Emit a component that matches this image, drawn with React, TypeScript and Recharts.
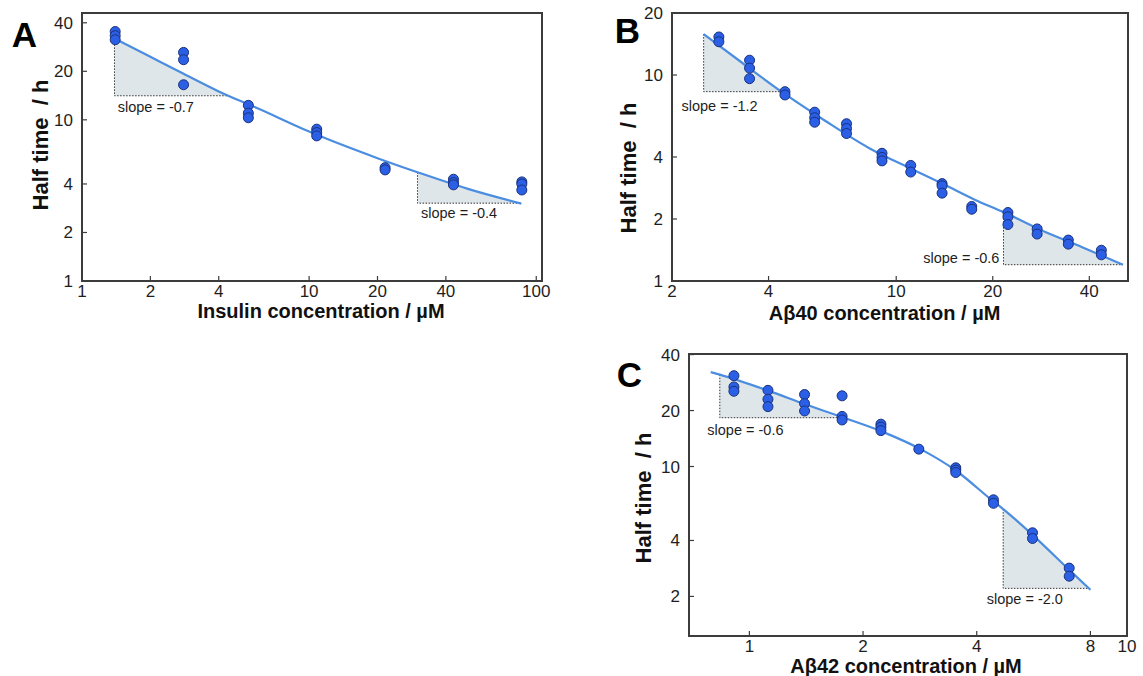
import React from 'react';
import { ComposedChart, XAxis, YAxis, Line, Area, Scatter, ReferenceArea } from 'recharts';

const FONT = '"Liberation Sans", Arial, Helvetica, sans-serif';
const AXIS = '#3c3c3c';
const INK = '#1e1e1e';
const FIT = '#4b8de0';
const DOT_FILL = '#2a5fe6';
const DOT_EDGE = '#1b327d';
const SHADE = '#dfe6e9';

// A: insulin
const insulinConc = [1.4, 2.8, 5.4, 10.8, 21.6, 43.2, 86.4];
const insulinHalfTime = [
  [35.3, 33.3, 31.4], [26.2, 23.6, 16.5], [12.3, 11.0, 10.3], [8.75, 8.34, 7.95],
  [5.05, 4.89], [4.28, 4.08, 3.95], [4.12, 4.0, 3.67],
];
const insulinFitX = [1.39, 2, 2.8, 4, 6, 10, 20, 30, 50, 86];
const insulinFitY = [32.0, 24.6, 19.3, 15.0, 11.7, 8.45, 5.78, 4.73, 3.73, 3.02];
const insulinSlopes = [
  { x1: 1.39, x2: 4.35, base: 14.1, label: 'slope = -0.7' },
  { x1: 30, x2: 86, base: 3.04, label: 'slope = -0.4' },
];
const insulinTicksX = [1, 2, 4, 10, 20, 40, 100];
const insulinTicksY = [1, 2, 4, 10, 20, 40];

// B: Abeta40
const ab40Conc = [2.8, 3.49, 4.5, 5.57, 7.0, 9.03, 11.1, 13.9, 17.2, 22.3, 27.5, 34.4, 43.6];
const ab40HalfTime = [
  [15.3, 14.5], [11.8, 10.8, 9.6], [8.3, 8.0], [6.6, 6.2, 5.9], [5.8, 5.5, 5.2],
  [4.17, 3.98, 3.83], [3.64, 3.38], [2.97, 2.9, 2.67], [2.3, 2.23], [2.15, 2.05, 1.88],
  [1.79, 1.69], [1.58, 1.51], [1.41, 1.34],
];
const ab40FitX = [2.51, 3.3, 4.39, 6, 8.27, 11.2, 14.1, 17.5, 21.6, 28, 38, 50.9];
const ab40FitY = [15.8, 11.5, 8.3, 6.0, 4.4, 3.49, 2.94, 2.49, 2.16, 1.78, 1.46, 1.2];
const ab40Slopes = [
  { x1: 2.51, x2: 4.39, base: 8.3, label: 'slope = -1.2' },
  { x1: 21.6, x2: 50.9, base: 1.2, label: 'slope = -0.6' },
];
const ab40TicksX = [2, 4, 10, 20, 40];
const ab40TicksY = [1, 2, 4, 10, 20];

// C: Abeta42
const ab42Conc = [0.91, 1.12, 1.4, 1.76, 2.23, 2.81, 3.52, 4.43, 5.62, 7.03];
const ab42HalfTime = [
  [30.8, 26.8, 25.4], [25.7, 23.0, 21.0], [24.4, 21.8, 19.9], [24.0, 18.6, 17.8],
  [16.9, 16.3, 15.6], [12.4], [9.84, 9.56, 9.28], [6.62, 6.34], [4.4, 4.1], [2.84, 2.57],
];
const ab42FitX = [0.79, 0.835, 1.12, 1.4, 1.71, 2.23, 2.84, 3.52, 4.43, 4.7, 5.62, 7.03, 8.0];
const ab42FitY = [32.2, 31.2, 25.6, 21.7, 18.8, 15.5, 12.4, 9.52, 6.48, 5.9, 4.29, 2.78, 2.17];
const ab42Slopes = [
  { x1: 0.835, x2: 1.71, base: 18.3, label: 'slope = -0.6' },
  { x1: 4.7, x2: 7.87, base: 2.21, label: 'slope = -2.0' },
];
const ab42TicksX = [1, 2, 4, 8, 10];
const ab42TicksY = [2, 4, 10, 20, 40];

const panels = [
  {
    letter: 'A', xTitle: 'Insulin concentration / µM',
    conc: insulinConc, halfTime: insulinHalfTime, fitX: insulinFitX, fitY: insulinFitY,
    slopes: insulinSlopes, ticksX: insulinTicksX, ticksY: insulinTicksY,
    xDomain: [1, 106], yDomain: [1, 46],
    box: { left: 0, top: 0, width: 560, height: 330, yw: 82, xh: 49 },
    margin: { top: 13, right: 18, left: 0, bottom: 0 },
    letterPos: [24.5, 33.5], yTitlePos: [41, 145], xTitlePos: [321, 311],
    slopePos: [[117.7, 107.3, 'left'], [421, 213.3, 'left']],
  },
  {
    letter: 'B', xTitle: 'Aβ40 concentration / µM',
    conc: ab40Conc, halfTime: ab40HalfTime, fitX: ab40FitX, fitY: ab40FitY,
    slopes: ab40Slopes, ticksX: ab40TicksX, ticksY: ab40TicksY,
    xDomain: [2, 52.8], yDomain: [1, 20],
    box: { left: 590, top: 0, width: 553, height: 330, yw: 82, xh: 49 },
    margin: { top: 13, right: 15, left: 0, bottom: 0 },
    letterPos: [627.5, 29.7], yTitlePos: [629, 167.5], xTitlePos: [884.6, 312.5],
    slopePos: [[681.5, 106, 'left'], [999.4, 257.5, 'right']],
  },
  {
    letter: 'C', xTitle: 'Aβ42 concentration / µM',
    conc: ab42Conc, halfTime: ab42HalfTime, fitX: ab42FitX, fitY: ab42FitY,
    slopes: ab42Slopes, ticksX: ab42TicksX, ticksY: ab42TicksY,
    xDomain: [0.692, 10], yDomain: [1.225, 40.3],
    box: { left: 600, top: 340, width: 543, height: 330, yw: 89, xh: 34 },
    margin: { top: 14, right: 16, left: 0, bottom: 0 },
    letterPos: [629.5, 374], yTitlePos: [644, 497.5], xTitlePos: [906, 665.5],
    slopePos: [[707.3, 430, 'left'], [986.7, 599.3, 'left']],
  },
];

const XTick = (props: any) => {
  const { x, y, payload } = props;
  return (
    <g>
      <line x1={x} x2={x} y1={y} y2={y - 5} stroke={AXIS} strokeWidth={1.2} />
      <text x={x} y={y + 16} textAnchor="middle" fontSize={17} fontFamily={FONT} fill={INK}>
        {payload.value}
      </text>
    </g>
  );
};

const YTick = (props: any) => {
  const { x, y, payload } = props;
  return (
    <g>
      <line x1={x} x2={x + 5} y1={y} y2={y} stroke={AXIS} strokeWidth={1.2} />
      <text x={x - 9} y={y + 6} textAnchor="end" fontSize={17} fontFamily={FONT} fill={INK}>
        {payload.value}
      </text>
    </g>
  );
};

const Dot = (p: any) => (
  <circle cx={p.cx} cy={p.cy} r={5} fill={DOT_FILL} stroke={DOT_EDGE} strokeWidth={1} />
);

const Txt = ({ x, y, align = 'center', rotate = false, style, children }: any) => {
  const tx = align === 'left' ? '0' : align === 'right' ? '-100%' : '-50%';
  return (
    <div
      style={{
        position: 'absolute', left: x, top: y, whiteSpace: 'pre', lineHeight: 1,
        fontFamily: FONT, color: INK,
        transform: `translate(${tx}, -50%)${rotate ? ' rotate(-90deg)' : ''}`,
        ...style,
      }}
    >
      {children}
    </div>
  );
};

function Panel({ cfg }: any) {
  const points = cfg.conc.flatMap((c: number, i: number) =>
    cfg.halfTime[i].map((h: number) => ({ x: c, y: h })));
  const fit = cfg.fitX.map((x: number, i: number) => ({ x, y: cfg.fitY[i] }));
  const tris = cfg.slopes.map((s: any) => {
    const inner = fit.filter((p: any) => p.x >= s.x1 && p.x < s.x2);
    return {
      base: s.base,
      area: [...inner, { x: s.x2, y: s.base }],
      edge: [{ x: s.x1, y: inner[0].y }, { x: s.x1, y: s.base }, { x: s.x2, y: s.base }],
    };
  });
  const b = cfg.box;
  return (
    <div style={{ position: 'absolute', left: b.left, top: b.top }}>
      <ComposedChart width={b.width} height={b.height} margin={cfg.margin}>
        <XAxis
          type="number" dataKey="x" scale="log" domain={cfg.xDomain} allowDataOverflow
          ticks={cfg.ticksX} interval={0} tick={XTick} tickLine={false} axisLine={false}
          tickSize={0} tickMargin={0} height={b.xh}
        />
        <YAxis
          type="number" dataKey="y" scale="log" domain={cfg.yDomain} allowDataOverflow
          ticks={cfg.ticksY} interval={0} tick={YTick} tickLine={false} axisLine={false}
          tickSize={0} tickMargin={0} width={b.yw}
        />
        {tris.map((t: any, i: number) => (
          <Area
            key={`a${i}`} data={t.area} dataKey="y" type="monotone" baseValue={t.base}
            fill={SHADE} fillOpacity={1} stroke="none" isAnimationActive={false}
          />
        ))}
        {tris.map((t: any, i: number) => (
          <Line
            key={`e${i}`} data={t.edge} dataKey="y" type="linear" stroke="#333"
            strokeWidth={1} strokeDasharray="1.5 1.5" dot={false} isAnimationActive={false}
          />
        ))}
        <Line data={fit} dataKey="y" type="monotone" stroke={FIT} strokeWidth={2.2} dot={false} isAnimationActive={false} />
        <Scatter data={points} shape={Dot} isAnimationActive={false} />
        <ReferenceArea
          x1={cfg.xDomain[0]} x2={cfg.xDomain[1]} y1={cfg.yDomain[0]} y2={cfg.yDomain[1]}
          fill="none" fillOpacity={0} stroke={AXIS} strokeWidth={2}
        />
      </ComposedChart>
    </div>
  );
}

export default function App() {
  return (
    <div style={{ position: 'absolute', left: 0, top: 0, width: 1143, height: 676, background: '#fff', overflow: 'hidden' }}>
      {panels.map((cfg) => (
        <React.Fragment key={cfg.letter}>
          <Panel cfg={cfg} />
          <Txt x={cfg.letterPos[0]} y={cfg.letterPos[1]} style={{ fontSize: 35, fontWeight: 700, color: '#000' }}>
            {cfg.letter}
          </Txt>
          <Txt x={cfg.yTitlePos[0]} y={cfg.yTitlePos[1]} rotate style={{ fontSize: 22, fontWeight: 700, color: '#111' }}>
            {'Half time  / h'}
          </Txt>
          <Txt x={cfg.xTitlePos[0]} y={cfg.xTitlePos[1]} style={{ fontSize: 20, fontWeight: 700, color: '#111' }}>
            {cfg.xTitle}
          </Txt>
          {cfg.slopes.map((s: any, i: number) => (
            <Txt key={i} x={cfg.slopePos[i][0]} y={cfg.slopePos[i][1]} align={cfg.slopePos[i][2]} style={{ fontSize: 14.5 }}>
              {s.label}
            </Txt>
          ))}
        </React.Fragment>
      ))}
    </div>
  );
}
